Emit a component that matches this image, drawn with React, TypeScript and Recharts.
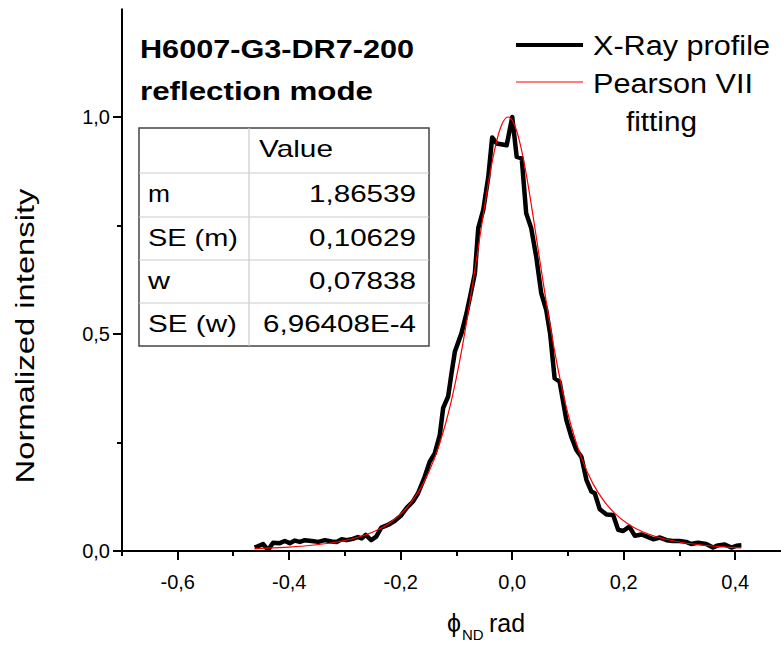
import React from "react";
import { LineChart, Line, XAxis, YAxis } from "recharts";

// measured X-ray profile (phi in rad, normalized intensity)
const xrayPhi = [
  -0.462, -0.447, -0.438, -0.429, -0.417, -0.408, -0.399, -0.39, -0.381, -0.372,
  -0.36, -0.348, -0.336, -0.324, -0.315, -0.306, -0.297, -0.286, -0.277, -0.27,
  -0.263, -0.253, -0.244, -0.235, -0.223, -0.211, -0.2, -0.189, -0.178, -0.169,
  -0.157, -0.148, -0.139, -0.13, -0.124, -0.115, -0.109, -0.103, -0.091, -0.082,
  -0.075, -0.067, -0.061, -0.052, -0.043, -0.036, -0.028, -0.01, 0.0, 0.008,
  0.017, 0.025, 0.034, 0.043, 0.052, 0.061, 0.068, 0.076, 0.085, 0.097,
  0.106, 0.115, 0.124, 0.133, 0.142, 0.148, 0.157, 0.169, 0.181, 0.19,
  0.199, 0.21, 0.22, 0.232, 0.244, 0.253, 0.265, 0.277, 0.288, 0.3,
  0.312, 0.321, 0.333, 0.348, 0.36, 0.369, 0.381, 0.393, 0.402, 0.411,
];
const xrayIntensity = [
  0.008, 0.016, 0.002, 0.019, 0.018, 0.023, 0.018, 0.024, 0.021, 0.025,
  0.023, 0.021, 0.025, 0.022, 0.021, 0.027, 0.025, 0.028, 0.032, 0.029,
  0.037, 0.025, 0.033, 0.054, 0.06, 0.069, 0.081, 0.1, 0.114, 0.133,
  0.171, 0.206, 0.225, 0.267, 0.329, 0.356, 0.409, 0.459, 0.502, 0.548,
  0.59, 0.64, 0.744, 0.786, 0.862, 0.953, 0.939, 0.935, 1.0, 0.908,
  0.905, 0.778, 0.744, 0.678, 0.594, 0.555, 0.5, 0.398, 0.39, 0.302,
  0.263, 0.233, 0.217, 0.164, 0.137, 0.133, 0.096, 0.084, 0.083, 0.049,
  0.046, 0.056, 0.035, 0.038, 0.032, 0.027, 0.031, 0.025, 0.023, 0.023,
  0.021, 0.016, 0.019, 0.016, 0.008, 0.013, 0.015, 0.008, 0.012, 0.013,
];

// Pearson VII fitting curve
const fitPhi = [
  -0.4625, -0.44, -0.4, -0.36, -0.32, -0.28, -0.24, -0.22, -0.2, -0.18,
  -0.16, -0.14, -0.12, -0.11, -0.1, -0.09, -0.08, -0.07, -0.06, -0.05,
  -0.04, -0.03, -0.02, -0.0075, 0.005, 0.015, 0.025, 0.035, 0.045, 0.055,
  0.065, 0.075, 0.085, 0.095, 0.105, 0.125, 0.145, 0.165, 0.185, 0.205,
  0.225, 0.265, 0.305, 0.345, 0.385, 0.41,
];
const fitIntensity = [
  0.0055, 0.0065, 0.0091, 0.0132, 0.0196, 0.0305, 0.0497, 0.0647, 0.0854, 0.1142,
  0.1546, 0.2117, 0.2915, 0.342, 0.4006, 0.4673, 0.5419, 0.6228, 0.7074, 0.7914,
  0.869, 0.9337, 0.9788, 1.0, 0.9788, 0.9337, 0.869, 0.7914, 0.7074, 0.6228,
  0.5419, 0.4673, 0.4006, 0.342, 0.2915, 0.2117, 0.1546, 0.1142, 0.0854, 0.0647,
  0.0497, 0.0305, 0.0196, 0.0132, 0.0091, 0.0074,
];

const xTicks = [-0.7, -0.6, -0.5, -0.4, -0.3, -0.2, -0.1, 0, 0.1, 0.2, 0.3, 0.4, 0.5, 0.6];
const xLabeled = [-0.6, -0.4, -0.2, 0, 0.2, 0.4];
const yTicks = [0, 0.25, 0.5, 0.75, 1.0];
const yLabeled = [0, 0.5, 1.0];

const paramNames = ["m", "SE (m)", "w", "SE (w)"];
const paramValues = ["1,86539", "0,10629", "0,07838", "6,96408E-4"];

const FONT = "'Liberation Sans', Arial, Helvetica, sans-serif";

const xrayData = xrayPhi.map((p, i) => ({ phi: p, v: xrayIntensity[i] }));
const fitData = fitPhi.map((p, i) => ({ phi: p, v: fitIntensity[i] }));

const isIn = (list: number[], v: number) => list.some((t) => Math.abs(t - v) < 1e-6);
const fmt = (v: number) => (Math.abs(v) < 1e-9 ? 0 : v).toFixed(1).replace(".", ",");

function BottomTick(props: any) {
  const { x, y, payload } = props;
  const major = isIn(xLabeled, payload.value);
  const px = Math.round(x);
  return (
    <g>
      <line x1={px} x2={px} y1={y} y2={y + (major ? 9 : 5)} stroke="#000" strokeWidth={2} />
      {major && (
        <text x={x} y={y + 38} textAnchor="middle" fontSize={20} fontFamily={FONT} fill="#000">
          {fmt(payload.value)}
        </text>
      )}
    </g>
  );
}

function TopTick(props: any) {
  const { x, y, payload } = props;
  const major = isIn(xLabeled, payload.value);
  const px = Math.round(x);
  return <line x1={px} x2={px} y1={y} y2={y - (major ? 9 : 5)} stroke="#000" strokeWidth={2} />;
}

function LeftTick(props: any) {
  const { x, y, payload } = props;
  const major = isIn(yLabeled, payload.value);
  const py = Math.round(y);
  return (
    <g>
      <line x1={x - (major ? 9 : 5)} x2={x} y1={py} y2={py} stroke="#000" strokeWidth={2} />
      {major && (
        <text x={x - 12} y={y + 7} textAnchor="end" fontSize={20} fontFamily={FONT} fill="#000">
          {fmt(payload.value)}
        </text>
      )}
    </g>
  );
}

function Overlay() {
  const rowY = [173, 217, 260, 303];
  const nameLen = [22, 90, 22, 89];
  const valLen = [107, 107, 107, 153];
  return (
    <svg
      width={781}
      height={648}
      style={{ position: "absolute", left: 0, top: 0, pointerEvents: "none" }}
      fontFamily={FONT}
    >
      {/* title */}
      <text x={140} y={58} fontSize={26} fontWeight="bold" textLength={274} lengthAdjust="spacingAndGlyphs">
        H6007-G3-DR7-200
      </text>
      <text x={140} y={100} fontSize={26} fontWeight="bold" textLength={233} lengthAdjust="spacingAndGlyphs">
        reflection mode
      </text>

      {/* parameter table */}
      <rect x={139} y={128} width={290} height={218} fill="#fff" stroke="#444" strokeWidth={1.5} />
      <line x1={249} x2={249} y1={128} y2={346} stroke="#ccc" strokeWidth={1.2} />
      {rowY.map((ry) => (
        <line key={ry} x1={139} x2={429} y1={ry} y2={ry} stroke="#ccc" strokeWidth={1.2} />
      ))}
      <text x={259} y={157} fontSize={24} textLength={74} lengthAdjust="spacingAndGlyphs">
        Value
      </text>
      {paramNames.map((n, i) => (
        <text key={n} x={148} y={rowY[i] + 29} fontSize={24} textLength={nameLen[i]} lengthAdjust="spacingAndGlyphs">
          {n}
        </text>
      ))}
      {paramValues.map((v, i) => (
        <text
          key={v}
          x={416}
          y={rowY[i] + 29}
          fontSize={24}
          textAnchor="end"
          textLength={valLen[i]}
          lengthAdjust="spacingAndGlyphs"
        >
          {v}
        </text>
      ))}

      {/* legend */}
      <line x1={516} x2={583} y1={45} y2={45} stroke="#000" strokeWidth={4} />
      <text x={593} y={55} fontSize={27} textLength={177} lengthAdjust="spacingAndGlyphs">
        X-Ray profile
      </text>
      <line x1={516} x2={583} y1={82} y2={82} stroke="#ff0000" strokeWidth={1.2} />
      <text x={593} y={93} fontSize={27} textLength={160} lengthAdjust="spacingAndGlyphs">
        Pearson VII
      </text>
      <text x={626} y={131} fontSize={27} textLength={71} lengthAdjust="spacingAndGlyphs">
        fitting
      </text>

      {/* axis titles */}
      <text
        x={0}
        y={0}
        fontSize={25}
        textAnchor="middle"
        transform="translate(34 336) rotate(-90)"
        textLength={295}
        lengthAdjust="spacingAndGlyphs"
      >
        Normalized intensity
      </text>
      <text x={447} y={632} fontSize={25}>
        ϕ
      </text>
      <text x={462} y={640} fontSize={15}>
        ND
      </text>
      <text x={489} y={632} fontSize={25}>
        rad
      </text>
    </svg>
  );
}

export default function App() {
  return (
    <div
      style={{
        position: "absolute",
        left: 0,
        top: 0,
        width: 781,
        height: 648,
        overflow: "hidden",
        background: "#fff",
      }}
    >
      <LineChart width={860} height={648} margin={{ top: 8.5, right: 13.25, bottom: 67, left: 62 }}>
        <XAxis
          xAxisId="bottom"
          dataKey="phi"
          type="number"
          domain={[-0.7, 0.6]}
          ticks={xTicks}
          interval={0}
          height={30}
          tickSize={0}
          tickMargin={0}
          tickLine={false}
          axisLine={{ stroke: "#000", strokeWidth: 2 }}
          tick={<BottomTick />}
          allowDataOverflow
        />
        <XAxis
          xAxisId="top"
          orientation="top"
          dataKey="phi"
          type="number"
          domain={[-0.7, 0.6]}
          ticks={xTicks}
          interval={0}
          height={0}
          tickSize={0}
          tickMargin={0}
          tickLine={false}
          axisLine={{ stroke: "#000", strokeWidth: 2 }}
          tick={<TopTick />}
          allowDataOverflow
        />
        <YAxis
          type="number"
          domain={[0, 1.25]}
          ticks={yTicks}
          interval={0}
          width={60}
          tickSize={0}
          tickMargin={0}
          tickLine={false}
          axisLine={{ stroke: "#000", strokeWidth: 2 }}
          tick={<LeftTick />}
          allowDataOverflow
        />
        <Line
          xAxisId="bottom"
          data={xrayData}
          dataKey="v"
          type="linear"
          stroke="#000"
          strokeWidth={4.5}
          strokeLinejoin="round"
          dot={false}
          isAnimationActive={false}
        />
        <Line
          xAxisId="bottom"
          data={fitData}
          dataKey="v"
          type="monotone"
          stroke="#ff0000"
          strokeWidth={1.2}
          dot={false}
          isAnimationActive={false}
        />
      </LineChart>
      <Overlay />
    </div>
  );
}
